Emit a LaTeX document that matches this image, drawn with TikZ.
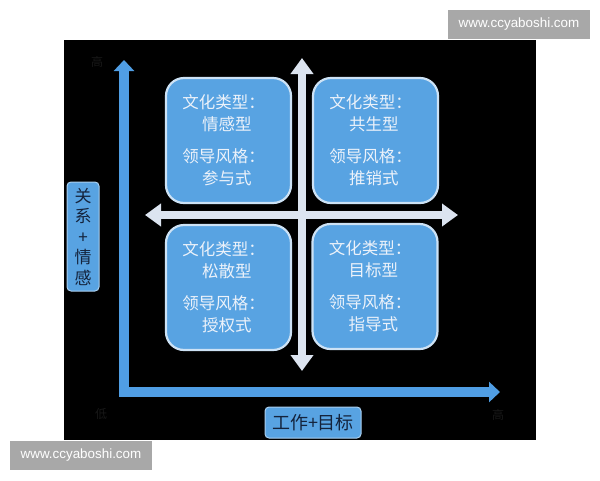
\documentclass[tikz,border=0pt]{standalone}
\usepackage{fontspec}
\setmainfont{Noto Sans CJK SC}
\newfontfamily\wmfont{Liberation Sans}
\usetikzlibrary{arrows.meta}
\definecolor{boxblue}{RGB}{88,163,226}
\definecolor{boxrim}{RGB}{205,226,245}
\definecolor{axisblue}{RGB}{80,158,228}
\definecolor{crosscol}{RGB}{220,228,240}
\definecolor{qtextcol}{RGB}{236,242,250}
\definecolor{labtext}{RGB}{20,35,60}
\definecolor{faint}{RGB}{24,24,24}
\definecolor{wmgray}{RGB}{168,168,168}
\tikzset{
  quadbox/.style={draw=boxrim, line width=2.2pt, fill=boxblue, rounded corners=18pt,
    minimum width=125pt, minimum height=125pt, inner sep=0pt},
  quadtext/.style={text=qtextcol, align=left, inner sep=0pt,
    font={\fontsize{16.5}{22}\selectfont}},
  labbox/.style={draw=boxrim!70!boxblue, line width=1pt, fill=boxblue, rounded corners=4pt,
    inner sep=0pt, text=labtext},
  axisline/.style={draw=axisblue, line width=10pt, line join=miter,
    {Triangle[width=20pt,length=11pt]}-{Triangle[width=20pt,length=11pt]}},
  crossline/.style={draw=crosscol, line width=8pt,
    {Triangle[width=22pt,length=16pt]}-{Triangle[width=22pt,length=16pt]}},
  fainttext/.style={text=faint, font={\fontsize{12}{12}\selectfont}, inner sep=0pt},
  wmbox/.style={fill=wmgray, text=white, inner sep=0pt, minimum width=142pt,
    minimum height=29pt, font={\wmfont\fontsize{13.4}{14}\selectfont}}
}
\begin{document}
\begin{tikzpicture}[x=1pt,y=-1pt]
\useasboundingbox (0,0) rectangle (600,480);
\fill[white] (0,0) rectangle (600,480);
\fill[black] (64,40) rectangle (536,440);

% axes
\coordinate (ytop) at (124,60);
\coordinate (orig) at (124,392);
\coordinate (xend) at (500,392);
\draw[axisline] (ytop) -- (orig) -- (xend);

% cross
\coordinate (vtop) at (302,58);
\coordinate (vbot) at (302,371);
\coordinate (hl) at (145,215);
\coordinate (hr) at (458,215);
\draw[crossline] (vtop) -- (vbot);
\draw[crossline] (hl) -- (hr);

% quadrant boxes
\node[quadbox] (tl) at (228.5,140.5) {};
\node[quadbox] (tr) at (375.5,140.5) {};
\node[quadbox] (bl) at (228.5,287.5) {};
\node[quadbox] (br) at (375,286.5) {};

\node[quadtext, xshift=-5pt] (tlt) at (tl) {文化类型：\\\hspace*{1.2em}情感型\\[10pt]领导风格：\\\hspace*{1.2em}参与式};
\node[quadtext, xshift=-5pt] (trt) at (tr) {文化类型：\\\hspace*{1.2em}共生型\\[10pt]领导风格：\\\hspace*{1.2em}推销式};
\node[quadtext, xshift=-5pt] (blt) at (bl) {文化类型：\\\hspace*{1.2em}松散型\\[10pt]领导风格：\\\hspace*{1.2em}授权式};
\node[quadtext, xshift=-5pt] (brt) at (br) {文化类型：\\\hspace*{1.2em}目标型\\[10pt]领导风格：\\\hspace*{1.2em}指导式};

% axis labels
\node[labbox, minimum width=32pt, minimum height=109pt, align=center,
  font={\fontsize{17}{20.5}\selectfont}] (ylab) at (83,236.5) {关\\系\\+\\情\\感};
\node[labbox, minimum width=96pt, minimum height=31pt,
  font={\fontsize{18}{20}\selectfont}] (xlab) at (313,422.5) {工作+目标};

% faint corner marks
\node[fainttext] (hi1) at (97,62) {高};
\node[fainttext] (lo) at (101,414) {低};
\node[fainttext] (hi2) at (498,415) {高};

% watermarks
\node[wmbox] (wm1) at (519,24.5) {www.ccyaboshi.com};
\node[wmbox] (wm2) at (81,455) {www.ccyaboshi.com};
\end{tikzpicture}
\end{document}
